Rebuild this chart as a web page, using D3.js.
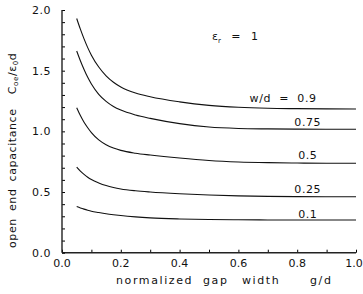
<!DOCTYPE html>
<html>
<head>
<meta charset="utf-8">
<script src="https://cdn.jsdelivr.net/npm/d3@7"></script>
<style>
  body { margin: 0; background: #fff; }
  text { font-family: "DejaVu Sans", sans-serif; fill: #111; }
</style>
</head>
<body>
<div id="chart"></div>
<script>
(function () {
    // Normalized gap width g/d (x values shared by all curves)
    const gapWidth = [0.05, 0.0625, 0.075, 0.0875, 0.1, 0.125, 0.15, 0.175, 0.2, 0.25,
                      0.3, 0.4, 0.5, 0.6, 0.7, 0.8, 0.9, 1.0];

    // Open end capacitance Coe/e0d for each strip width w/d
    const cap090 = [1.93, 1.842, 1.762, 1.69, 1.628, 1.53, 1.458, 1.405, 1.366, 1.316,
                    1.285, 1.243, 1.214, 1.198, 1.19, 1.187, 1.185, 1.184];
    const cap075 = [1.662, 1.582, 1.51, 1.445, 1.39, 1.305, 1.247, 1.205, 1.175, 1.135,
                    1.107, 1.064, 1.036, 1.024, 1.02, 1.018, 1.017, 1.017];
    const cap050 = [1.195, 1.13, 1.075, 1.03, 0.99, 0.93, 0.89, 0.862, 0.843, 0.82,
                    0.805, 0.78, 0.76, 0.748, 0.742, 0.739, 0.737, 0.737];
    const cap025 = [0.705, 0.672, 0.645, 0.622, 0.603, 0.575, 0.553, 0.537, 0.525, 0.51,
                    0.5, 0.486, 0.476, 0.468, 0.464, 0.462, 0.461, 0.461];
    const cap010 = [0.38, 0.369, 0.359, 0.35, 0.342, 0.331, 0.321, 0.313, 0.306, 0.295,
                    0.287, 0.278, 0.273, 0.271, 0.27, 0.269, 0.269, 0.269];

    const seriesLabels = ["w/d  =  0.9", "0.75", "0.5", "0.25", "0.1"];
    const seriesValues = [cap090, cap075, cap050, cap025, cap010];

    const xTicks = [0, 0.2, 0.4, 0.6, 0.8, 1.0];
    const yTicks = [0, 0.5, 1.0, 1.5, 2.0];

    const width = 363, height = 294;

    const svg = d3.select("#chart")
        .append("svg")
        .attr("width", width)
        .attr("height", height);

    // Scales
    const x = d3.scaleLinear().domain([0, 1]).range([62, 356]);
    const y = d3.scaleLinear().domain([0, 2]).range([252.7, 10]);

    // Minor ticks every 0.1, both axes, pointing inward
    const xAxis = svg.append("g")
        .attr("transform", `translate(0,${y(0)})`)
        .call(d3.axisTop(x).tickValues(d3.range(0, 1.001, 0.1)).tickSize(3).tickFormat(""));
    xAxis.select(".domain").remove();
    xAxis.append("line")
        .attr("x1", x(0)).attr("x2", x(1))
        .attr("stroke", "#222").attr("stroke-width", 1.6);

    const yAxis = svg.append("g")
        .attr("transform", `translate(${x(0)},0)`)
        .call(d3.axisRight(y).tickValues(d3.range(0, 2.001, 0.1)).tickSize(3).tickFormat(""));
    yAxis.select(".domain").remove();
    yAxis.append("line")
        .attr("y1", y(0)).attr("y2", y(2))
        .attr("stroke", "#222").attr("stroke-width", 1.4);

    // Tick labels (last one nudged so it stays inside the frame)
    svg.selectAll(".xlab")
        .data(xTicks)
        .enter().append("text")
        .attr("class", "xlab")
        .attr("x", d => x(d) - (d === 1 ? 2 : 0))
        .attr("y", y(0) + 14)
        .attr("text-anchor", "middle")
        .attr("font-size", 11)
        .text(d => d.toFixed(1));

    svg.selectAll(".ylab")
        .data(yTicks)
        .enter().append("text")
        .attr("class", "ylab")
        .attr("x", 51)
        .attr("y", d => y(d) + 4)
        .attr("text-anchor", "end")
        .attr("font-size", 11)
        .attr("letter-spacing", 0.5)
        .text(d => d.toFixed(1));

    // Curves
    const line = d3.line()
        .x((d, i) => x(gapWidth[i]))
        .y(d => y(d))
        .curve(d3.curveMonotoneX);

    svg.selectAll(".curve")
        .data(seriesValues)
        .enter().append("path")
        .attr("class", "curve")
        .attr("d", line)
        .attr("fill", "none")
        .attr("stroke", "#111")
        .attr("stroke-width", 1.1);

    // Curve labels, sitting just above the flat end of each curve
    const labelShift = [-7, -3, -4, -4, -2];
    svg.selectAll(".clab")
        .data(seriesValues)
        .enter().append("text")
        .attr("class", "clab")
        .attr("x", (d, i) => i === 0 ? x(0.866) : x(0.836))
        .attr("y", (d, i) => y(d[d.length - 1]) + labelShift[i])
        .attr("text-anchor", (d, i) => i === 0 ? "end" : "middle")
        .attr("font-size", 11)
        .attr("letter-spacing", 0.6)
        .style("white-space", "pre")
        .text((d, i) => seriesLabels[i]);

    // Dielectric constant note
    const er = svg.append("text")
        .attr("x", x(0.51))
        .attr("y", y(1.75))
        .attr("font-size", 11)
        .style("white-space", "pre");
    er.append("tspan").text("ε");
    er.append("tspan").attr("font-size", 7).attr("dy", 3).text("r");
    er.append("tspan").attr("dy", -3).text("   =   1");

    // Axis titles
    const xt = svg.append("text")
        .attr("y", 284)
        .attr("font-size", 11)
        .attr("letter-spacing", 1.6);
    xt.append("tspan").attr("x", 116).text("normalized");
    xt.append("tspan").attr("x", 203).text("gap");
    xt.append("tspan").attr("x", 242).text("width");
    xt.append("tspan").attr("x", 310).text("g/d");

    const yt = svg.append("text")
        .attr("transform", "translate(16,248) rotate(-90)")
        .attr("font-size", 11)
        .attr("letter-spacing", 0.6)
        .attr("word-spacing", 3)
        .style("white-space", "pre");
    yt.append("tspan").text("open end capacitance  C");
    yt.append("tspan").attr("font-size", 7).attr("dy", 2).text("oe");
    yt.append("tspan").attr("dy", -2).text("/ε");
    yt.append("tspan").attr("font-size", 7).attr("dy", 2).text("0");
    yt.append("tspan").attr("dy", -2).text("d");
})();
</script>
</body>
</html>
